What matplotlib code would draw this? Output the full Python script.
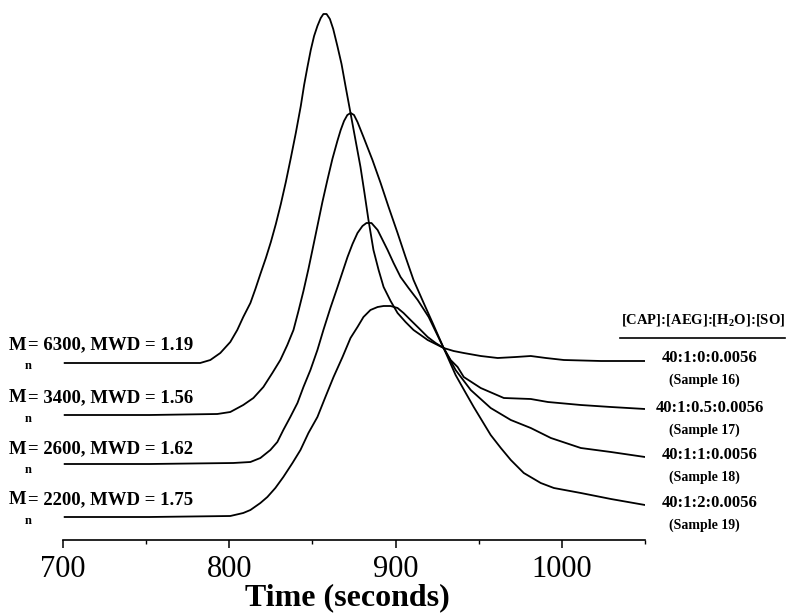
import numpy as np
import matplotlib
matplotlib.use('Agg')
import matplotlib.pyplot as plt
from matplotlib.lines import Line2D

plt.rcParams['font.family'] = ['Liberation Serif', 'DejaVu Serif']
plt.rcParams['mathtext.fontset'] = 'custom'
plt.rcParams['mathtext.rm'] = 'Liberation Serif:bold'
plt.rcParams['mathtext.bf'] = 'Liberation Serif:bold'

# GPC traces (time in s, detector signal in arbitrary units)
time_s16 = [701, 752, 782.5, 788.6, 794.6, 800.6, 804.8, 808.4, 812.7, 815.7, 818.7, 822.0, 825.0, 828.0,
            831.0, 834.0, 837.0, 840.0, 843.0, 845.0, 847.0, 849.0, 851.0, 853.0, 855.0, 856.6, 858.5,
            860.5, 862.5, 865.0, 867.5, 870.0, 872.9, 875.9, 878.9, 881.3, 883.7, 886.7, 889.8, 892.8,
            897.0, 901.2, 906.0, 910.8, 915.1, 919.3, 924.1, 928.9, 934.9, 941.0, 951.2, 961.4, 972.3,
            981.3, 990.4, 1001.2, 1023.5, 1050]
sig_s16 = [177, 177, 177, 180, 187, 198, 210, 223, 237, 251, 266, 282, 298, 316,
           336, 358, 382, 407, 434, 455, 473, 490, 504, 514, 522, 526, 526,
           521, 511, 494, 476, 453, 427, 400, 373, 347, 320, 290, 270, 253,
           239, 227, 218, 210, 205, 200, 196, 192, 189, 187, 184, 182, 183,
           184, 182, 180, 179, 179]

time_s17 = [701, 752, 792.8, 800.6, 808.4, 814.5, 820.5, 825.9, 830.7, 834.9, 838.6, 841.6, 844.6, 847.6,
            850.0, 853.0, 856.0, 859.0, 862.0, 865.0, 867.0, 869.0, 871.0, 873.0, 875.0, 877.1, 880.7,
            886.1, 891.0, 895.8, 901.2, 906.0, 910.8, 916.9, 922.3, 928.9, 933.1, 937.3, 941.0, 951.2,
            965.1, 981.3, 991.6, 1011.4, 1029.5, 1050]
sig_s17 = [125, 125, 126, 128, 135, 142, 153, 167, 180, 195, 210, 229, 249, 271,
           290, 314, 338, 360, 381, 399, 410, 419, 425, 427, 425, 418, 403,
           380, 357, 333, 307, 283, 260, 237, 217, 192, 180, 173, 163, 152,
           142, 141, 138, 135, 133, 131]

time_s18 = [701, 752, 802.4, 812.7, 818.7, 824.7, 828.9, 832.5, 836.7, 841.0, 844.6, 848.8, 853.0, 856.6,
            860.8, 865.1, 868.1, 871.1, 874.1, 877.1, 880.1, 882.5, 885.5, 889.2, 895.2, 898.8, 903.0,
            907.8, 913.3, 919.9, 928.9, 936.1, 945.2, 957.2, 969.3, 981.3, 993.4, 1011.4, 1029.5, 1050]
sig_s18 = [76, 76, 77, 78, 82, 90, 98, 110, 123, 137, 153, 170, 190, 210,
           232, 253, 268, 283, 296, 307, 314, 317, 317, 310, 290, 277, 263,
           252, 240, 223, 192, 170, 150, 132, 120, 112, 102, 92, 88, 83]

time_s19 = [701, 752, 800.6, 808.4, 812.7, 818.7, 822.9, 827.7, 832.5, 838.0, 842.8, 847.6, 853.0, 857.8,
            862.7, 868.1, 872.9, 877.1, 880.7, 884.9, 889.2, 892.8, 897.0, 901.2, 904.8, 909.0, 913.9,
            919.3, 924.1, 928.9, 936.1, 942.2, 947.0, 957.2, 963.3, 969.3, 977.1, 987.3, 995.2, 1011.4,
            1029.5, 1050]
sig_s19 = [23, 23, 24, 27, 30, 37, 43, 52, 63, 77, 90, 107, 123, 143,
           163, 183, 202, 213, 223, 230, 233, 234, 234, 232, 227, 220, 212,
           203, 197, 192, 165, 147, 133, 105, 92, 80, 67, 57, 52, 47,
           41, 35]

left_labels = ['= 6300, MWD = 1.19', '= 3400, MWD = 1.56', '= 2600, MWD = 1.62', '= 2200, MWD = 1.75']
ratio_labels = ['40:1:0:0.0056', '40:1:0.5:0.0056', '40:1:1:0.0056', '40:1:2:0.0056']
sample_labels = ['(Sample 16)', '(Sample 17)', '(Sample 18)', '(Sample 19)']
header = r'[CAP]:[AEG]:[H$_\mathbf{2}$O]:[SO]'
xticks = [700, 800, 900, 1000]

W, H = 786, 613
fig = plt.figure(figsize=(W / 100, H / 100), dpi=100)
ax = fig.add_axes([63 / W, 73 / H, 582 / W, 540 / H])

for t, s in [(time_s16, sig_s16), (time_s17, sig_s17), (time_s18, sig_s18), (time_s19, sig_s19)]:
    ax.plot(t, s, color='black', lw=1.3, solid_joinstyle='round')

ax.set_xlim(700, 1050)
ax.set_ylim(0, 540)
for side in ['top', 'left', 'right']:
    ax.spines[side].set_visible(False)
ax.spines['bottom'].set_linewidth(1.2)
ax.set_yticks([])
ax.set_xticks(xticks)
ax.set_xticks([750, 850, 950, 1050], minor=True)
ax.tick_params(axis='x', which='major', direction='out', length=6, width=1.1, labelsize=22, pad=5)
ax.tick_params(axis='x', which='minor', direction='out', length=3, width=1.0)


def fpos(x, y):
    return x / W, 1 - y / H


fig.text(*fpos(347, 598), 'Time (seconds)', fontsize=23, fontweight='bold', ha='center', va='center')

# left annotations (Mn, MWD)
label_y = [345, 398, 449, 500]
for txt, y in zip(left_labels, label_y):
    fig.text(*fpos(9, y), 'M', fontsize=13.5, fontweight='bold', ha='left', va='center')
    fig.text(*fpos(28, y), txt, fontsize=13.5, fontweight='bold', ha='left', va='center')
    fig.text(*fpos(28, y + 21), 'n', fontsize=9, fontweight='bold', ha='center', va='center')

# right annotations
fig.text(*fpos(785, 321), header, fontsize=10.5, fontweight='bold', ha='right', va='center')
fig.add_artist(Line2D([620 / W, 785 / W], [1 - 338 / H, 1 - 338 / H], color='black', lw=1.2))
ratio_y = [358, 408, 455, 503]
sample_y = [380, 430, 477, 525]
for r, sl, ry, sy in zip(ratio_labels, sample_labels, ratio_y, sample_y):
    fig.text(*fpos(710, ry), r, fontsize=12, fontweight='bold', ha='center', va='center')
    fig.text(*fpos(704, sy), sl, fontsize=10, fontweight='bold', ha='center', va='center')

fig.savefig('out.png', dpi=100)
